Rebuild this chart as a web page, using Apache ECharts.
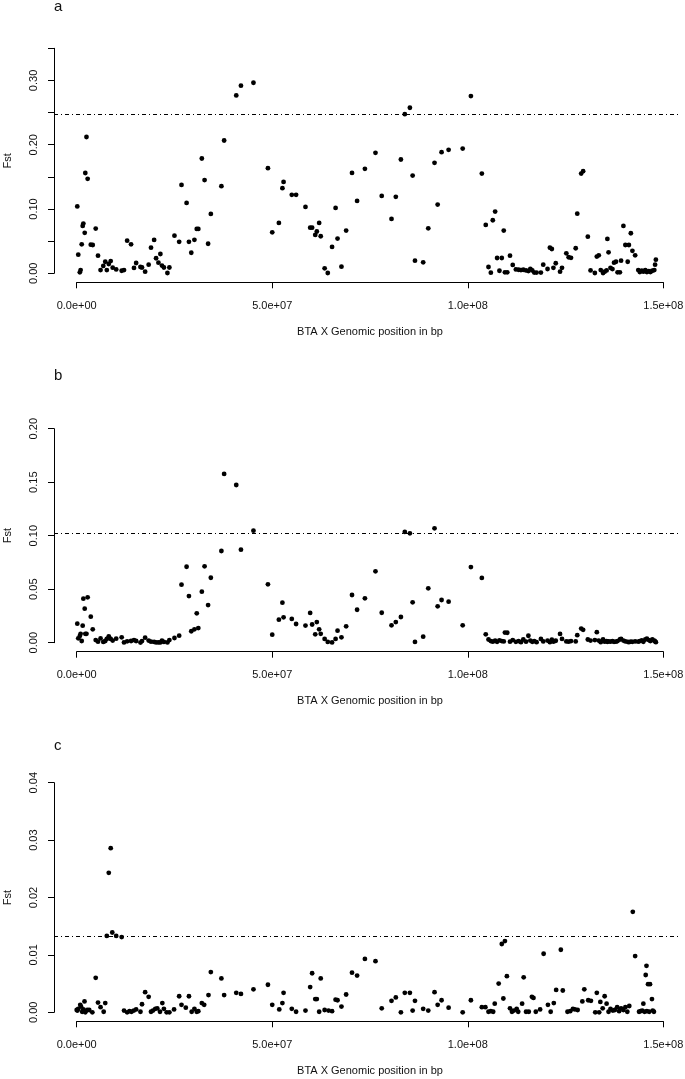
<!DOCTYPE html>
<html>
<head>
<meta charset="utf-8">
<script src="https://cdn.jsdelivr.net/npm/echarts@6/dist/echarts.min.js"></script>
<style>html,body{margin:0;padding:0;background:#fff}#c{width:685px;height:1079px}</style>
</head>
<body>
<div id="c"></div>
<script>
// Genomic position in Mbp, Fst value
var panelA = [
[0.15,0.104],[0.4,0.029],[0.8,0.0015],[1.0,0.005],[1.28,0.045],[1.53,0.0737],[1.7,0.0773],[2.05,0.063],[2.2,0.156],[2.5,0.212],
[2.8,0.147],[3.6,0.0445],[4.1,0.044],[4.86,0.0695],[5.45,0.0274],[6.1,0.005],[6.8,0.0114],[7.3,0.018],[7.7,0.005],[8.2,0.0145],
[8.7,0.019],[9.2,0.0088],[10.1,0.006],[11.5,0.004],[12.1,0.005],[12.9,0.0508],[13.9,0.045],[14.65,0.0083],[15.2,0.016],[16.3,0.0098],
[16.7,0.009],[17.5,0.0025],[18.4,0.0134],[19.0,0.0399],[19.8,0.0519],[20.3,0.0234],[20.9,0.0165],[21.4,0.030],[21.8,0.012],[22.3,0.009],
[23.2,0.0005],[23.7,0.009],[25.0,0.0586],[26.2,0.049],[26.8,0.1375],[28.1,0.1095],[28.7,0.049],[29.3,0.032],[30.1,0.052],[30.7,0.069],
[31.1,0.069],[32.0,0.1786],[32.7,0.145],[33.6,0.046],[34.3,0.0924],[37.0,0.1355],[37.7,0.2066],[40.8,0.2767],[42.0,0.2918],[45.2,0.2964],
[48.9,0.1635],[50.0,0.0638],[51.7,0.0783],[52.6,0.1324],[52.9,0.1422],[55.0,0.122],[56.1,0.122],[58.5,0.1033],[59.7,0.071],[60.2,0.071],
[61.0,0.0597],[61.4,0.065],[62.0,0.0783],[62.4,0.0576],[63.4,0.0078],[64.2,0.0005],[65.3,0.041],[66.2,0.1017],[66.7,0.054],[67.7,0.0103],
[68.9,0.0664],[70.4,0.1562],[71.7,0.1126],[73.7,0.1625],[76.4,0.1874],[78.0,0.1204],[80.5,0.0846],[81.6,0.1189],[82.9,0.177],[83.9,0.2476],
[85.2,0.2575],[85.9,0.152],[86.5,0.0197],[88.6,0.0171],[89.9,0.070],[91.5,0.1718],[92.3,0.1069],[93.3,0.1884],[95.1,0.192],[98.7,0.194],
[100.8,0.2757],[103.6,0.1552],[104.6,0.0752],[105.3,0.0098],[105.9,0.001],[106.4,0.0825],[107.0,0.096],[107.5,0.0238],[108.1,0.004],[108.7,0.0238],
[109.2,0.0664],[109.5,0.0015],[110.1,0.0015],[110.8,0.0274],[111.5,0.013],[112.3,0.006],[113.0,0.0055],[113.6,0.005],[114.2,0.0055],[114.9,0.0045],
[115.5,0.0035],[116.0,0.007],[116.5,0.0045],[117.0,0.0012],[117.6,0.0012],[118.7,0.0012],[119.3,0.0134],[120.4,0.0067],[121.0,0.0399],[121.5,0.0378],
[121.9,0.0085],[122.5,0.0156],[123.6,0.0025],[124.1,0.0085],[125.2,0.031],[125.8,0.025],[126.4,0.024],[127.6,0.039],[128.0,0.0928],[129.0,0.1552],
[129.5,0.1589],[130.7,0.057],[131.4,0.0045],[132.5,0.0005],[133.0,0.026],[133.5,0.028],[134.0,0.005],[134.6,0.0005],[135.0,0.0025],[135.5,0.0045],
[135.7,0.0534],[136.0,0.0327],[136.5,0.0085],[137.0,0.0065],[137.4,0.0165],[137.9,0.018],[138.3,0.0015],[138.9,0.0015],[139.2,0.0197],[139.8,0.0737],
[140.3,0.044],[140.9,0.018],[141.2,0.044],[141.7,0.0623],[142.1,0.035],[142.8,0.028],[143.6,0.005],[144.0,0.002],[144.5,0.004],[144.9,0.0025],
[145.4,0.005],[145.8,0.002],[146.3,0.0035],[146.7,0.002],[147.2,0.004],[147.7,0.005],[147.9,0.0134],[148.1,0.0212]
];
var panelB = [
[0.15,0.0178],[0.4,0.0041],[0.8,0.0063],[1.0,0.0083],[1.28,0.0016],[1.53,0.0159],[1.7,0.0411],[2.05,0.0318],[2.2,0.0083],[2.5,0.0083],
[2.8,0.0424],[3.6,0.0243],[4.1,0.0125],[4.86,0.0025],[5.45,0.001],[6.1,0.004],[6.8,0.0007],[7.3,0.0016],[7.7,0.0035],[8.2,0.006],
[8.7,0.0035],[9.2,0.002],[10.1,0.0038],[11.5,0.005],[12.1,0.0003],[12.9,0.0013],[13.9,0.0016],[14.65,0.0025],[15.2,0.0016],[16.3,0.0001],
[16.7,0.0015],[17.5,0.0047],[18.4,0.002],[19.0,0.001],[19.8,0.0007],[20.3,0.0003],[20.9,0.0003],[21.4,0.0003],[21.8,0.002],[22.3,0.0007],
[23.2,0.0003],[23.7,0.0025],[25.0,0.0044],[26.2,0.0066],[26.8,0.0542],[28.1,0.071],[28.7,0.0436],[29.3,0.0107],[30.1,0.0125],[30.7,0.0275],
[31.1,0.0137],[32.0,0.0477],[32.7,0.0714],[33.6,0.0352],[34.3,0.0607],[37.0,0.0857],[37.7,0.1577],[40.8,0.1474],[42.0,0.0869],[45.2,0.1047],
[48.9,0.0546],[50.0,0.0075],[51.7,0.0215],[52.6,0.0374],[52.9,0.0237],[55.0,0.0222],[56.1,0.0175],[58.5,0.016],[59.7,0.0278],[60.2,0.017],
[61.0,0.0078],[61.4,0.0193],[62.0,0.0125],[62.4,0.0083],[63.4,0.0035],[64.2,0.0007],[65.3,0.0003],[66.2,0.0035],[66.7,0.0112],[67.7,0.005],
[68.9,0.0153],[70.4,0.0446],[71.7,0.0308],[73.7,0.0415],[76.4,0.0667],[78.0,0.028],[80.5,0.0162],[81.6,0.0193],[82.9,0.024],[83.9,0.1035],
[85.2,0.1022],[85.9,0.0377],[86.5,0.0007],[88.6,0.0056],[89.9,0.0508],[91.5,0.1069],[92.3,0.034],[93.3,0.0399],[95.1,0.0383],[98.7,0.0162],
[100.8,0.0707],[103.6,0.0605],[104.6,0.0078],[105.3,0.003],[105.9,0.0015],[106.4,0.001],[107.0,0.0018],[107.5,0.0008],[108.1,0.0022],[108.7,0.0015],
[109.2,0.0012],[109.5,0.0095],[110.1,0.0093],[110.8,0.001],[111.5,0.0025],[112.3,0.0008],[113.0,0.0015],[113.6,0.0005],[114.2,0.003],[114.9,0.001],
[115.5,0.0065],[116.0,0.002],[116.5,0.0008],[117.0,0.0015],[117.6,0.0005],[118.7,0.0035],[119.3,0.0012],[120.4,0.002],[121.0,0.0005],[121.5,0.0028],
[121.9,0.001],[122.5,0.0018],[123.6,0.0082],[124.1,0.0035],[125.2,0.0012],[125.8,0.001],[126.4,0.0015],[127.6,0.0012],[128.0,0.007],[129.0,0.0132],
[129.5,0.012],[130.7,0.003],[131.4,0.002],[132.5,0.0025],[133.0,0.0098],[133.5,0.002],[134.0,0.0005],[134.6,0.003],[135.0,0.001],[135.5,0.0015],
[135.7,0.0008],[136.0,0.0012],[136.5,0.001],[137.0,0.0015],[137.4,0.0008],[137.9,0.001],[138.3,0.0015],[138.9,0.003],[139.2,0.0035],[139.8,0.002],
[140.3,0.0012],[140.9,0.0008],[141.2,0.0005],[141.7,0.001],[142.1,0.0008],[142.8,0.0012],[143.6,0.001],[144.0,0.0015],[144.5,0.0022],[144.9,0.0008],
[145.4,0.003],[145.8,0.0038],[146.3,0.0025],[146.7,0.0015],[147.2,0.003],[147.7,0.0018],[147.9,0.0012],[148.1,0.0005]
];
var panelC = [
[0.0,0.0004],[0.2,0.0003],[0.4,0.0006],[0.9,0.0013],[1.1,0.0010],[1.4,0.0001],[1.7,0.0005],[2.0,0.0019],[2.2,0.0],[2.7,0.0004],
[3.2,0.0004],[4.0,0.0],[4.86,0.006],[5.45,0.0017],[6.1,0.0009],[6.9,0.0001],[7.3,0.0016],[7.7,0.0133],[8.2,0.0243],[8.7,0.0286],
[9.1,0.0139],[10.1,0.0133],[11.5,0.0131],[12.1,0.0003],[12.9,0.0],[13.5,0.0002],[14.0,0.0001],[14.6,0.0003],[15.2,0.0005],[16.3,0.0001],
[16.7,0.0014],[17.5,0.0035],[18.4,0.0027],[19.0,0.0001],[19.5,0.0003],[20.1,0.0006],[20.6,0.0007],[21.3,0.0001],[21.9,0.0016],[22.3,0.0006],
[23.0,0.0],[23.7,0.0],[24.9,0.0005],[26.2,0.0028],[26.8,0.0013],[27.9,0.0008],[28.7,0.0028],[29.4,0.0001],[30.1,0.0006],[30.7,0.0001],
[31.1,0.0002],[32.0,0.0016],[32.6,0.0013],[33.7,0.003],[34.3,0.007],[37.0,0.0059],[37.7,0.003],[40.8,0.0034],[42.0,0.0032],[45.2,0.004],
[48.9,0.0048],[50.0,0.0013],[51.8,0.0005],[52.6,0.0016],[52.9,0.0034],[55.0,0.0006],[56.1,0.0001],[58.5,0.0003],[59.7,0.0044],[60.2,0.0068],
[61.0,0.0023],[61.4,0.0023],[62.0,0.0001],[62.4,0.0059],[63.4,0.0004],[64.4,0.0003],[65.3,0.0002],[66.2,0.0022],[66.7,0.0021],[67.7,0.001],
[68.9,0.0031],[70.4,0.0069],[71.7,0.0064],[73.7,0.0093],[76.4,0.0089],[78.0,0.0007],[80.5,0.002],[81.6,0.0026],[82.9,0.0],[83.9,0.0034],
[85.2,0.0034],[85.9,0.0003],[86.5,0.002],[88.6,0.0006],[89.9,0.0003],[91.5,0.0035],[92.3,0.0013],[93.3,0.0021],[95.1,0.0008],[98.7,0.0],
[100.8,0.0021],[103.6,0.0009],[104.5,0.0009],[105.3,0.0001],[105.9,0.0002],[106.5,0.0001],[106.9,0.0015],[107.9,0.005],[108.7,0.0119],[109.1,0.0024],
[109.5,0.0124],[110.0,0.0063],[110.8,0.0007],[111.3,0.0001],[111.8,0.0003],[112.5,0.0006],[112.9,0.0001],[113.9,0.0015],[114.3,0.0061],[114.9,0.0001],
[115.6,0.0001],[116.4,0.0027],[116.8,0.0025],[117.4,0.0001],[118.5,0.0005],[119.4,0.0102],[120.5,0.0013],[121.2,0.0001],[122.0,0.0016],[122.6,0.0039],
[123.8,0.0109],[124.3,0.0038],[125.5,0.0001],[126.2,0.0002],[126.9,0.0006],[127.4,0.0005],[128.1,0.0004],[129.3,0.0019],[129.8,0.004],[130.8,0.0021],
[131.5,0.002],[132.6,0.0],[133.0,0.0034],[133.6,0.0],[133.9,0.0018],[134.5,0.0007],[135.0,0.0028],[135.5,0.0015],[136.0,0.0001],[136.5,0.0006],
[137.1,0.0003],[137.6,0.0004],[138.2,0.0009],[138.7,0.0002],[139.2,0.0007],[139.8,0.0004],[140.3,0.0009],[140.8,0.0001],[141.3,0.0011],[142.2,0.0175],
[142.8,0.0098],[143.8,0.0001],[144.2,0.0002],[144.6,0.0003],[144.9,0.0015],[145.2,0.0001],[145.5,0.0065],[145.7,0.0081],[145.8,0.0002],[146.1,0.0049],
[146.4,0.0001],[146.6,0.0049],[147.1,0.0023],[147.3,0.0003],[147.6,0.0001]
];
var thresholds = [0.2477, 0.1020, 0.01329];
var yMax = [0.35, 0.20, 0.04];
var yStep = [0.05, 0.05, 0.01];
var yTickLabelsA = ['0.00','','0.10','','0.20','','0.30',''];
var yTickLabelsB = ['0.00','0.05','0.10','0.15','0.20'];
var yTickLabelsC = ['0.00','0.01','0.02','0.03','0.04'];
var xTickLabels = ['0.0e+00','5.0e+07','1.0e+08','1.5e+08'];
var panelLetters = ['a','b','c'];
var xTitle = 'BTA X Genomic position in bp';
var yTitle = 'Fst';

var FONT = 'Liberation Sans, Arial, sans-serif';
var TXT = '#111';
var layout = [
  {top: 48.3, height: 225},
  {top: 428.7, height: 214},
  {top: 782.7, height: 229.6}
];
var letterTop = [-1, 368, 738];
var datasets = [panelA, panelB, panelC];
var yLabels = [yTickLabelsA, yTickLabelsB, yTickLabelsC];

var option = {
  animation: false,
  backgroundColor: '#fff',
  title: [], grid: [], xAxis: [], yAxis: [], series: []
};
for (var i = 0; i < 3; i++) {
  var L = layout[i];
  option.title.push({text: panelLetters[i], left: 54, top: letterTop[i], padding: 0,
    textStyle: {fontFamily: FONT, fontSize: 15, fontWeight: 'normal', color: TXT}});
  // axis grid (data range)
  option.grid.push({left: 76.7, width: 586.6, top: L.top, height: L.height,
    containLabel: false, outerBoundsMode: 'none'});
  // plot region grid (for the threshold line)
  option.grid.push({left: 54, width: 626, top: L.top, height: L.height,
    containLabel: false, outerBoundsMode: 'none'});
  (function(idx){
    var labs = yLabels[idx];
    var step = yStep[idx];
    option.xAxis.push({
      gridIndex: 2*idx, type: 'value', min: 0, max: 150, interval: 50,
      position: 'bottom', offset: 9,
      name: xTitle, nameLocation: 'middle', nameGap: 44,
      nameTextStyle: {fontFamily: FONT, fontSize: 11, color: TXT},
      axisLine: {show: true, onZero: false, lineStyle: {color: '#000', width: 1}},
      axisTick: {show: true, length: 6, lineStyle: {color: '#000'}},
      axisLabel: {show: true, margin: 18, fontFamily: FONT, fontSize: 11, color: TXT,
        formatter: function(v){ return xTickLabels[Math.round(v/50)]; }},
      splitLine: {show: false}
    });
    option.yAxis.push({
      gridIndex: 2*idx, type: 'value', min: 0, max: yMax[idx], interval: step,
      position: 'left', offset: 22.7,
      name: yTitle, nameLocation: 'middle', nameGap: 41, nameRotate: 90,
      nameTextStyle: {fontFamily: FONT, fontSize: 11, color: TXT},
      axisLine: {show: true, onZero: false, lineStyle: {color: '#000', width: 1}},
      axisTick: {show: true, length: 6, lineStyle: {color: '#000'}},
      axisLabel: {show: true, rotate: 90, margin: 15, fontFamily: FONT, fontSize: 11, color: TXT,
        formatter: function(v){ var k = Math.round(v/step); return labs[k] || ''; }},
      splitLine: {show: false}
    });
    option.xAxis.push({gridIndex: 2*idx+1, type: 'value', min: 0, max: 1, show: false});
    option.yAxis.push({gridIndex: 2*idx+1, type: 'value', min: 0, max: yMax[idx], show: false});
    option.series.push({
      type: 'scatter', xAxisIndex: 2*idx, yAxisIndex: 2*idx,
      data: datasets[idx], symbol: 'circle', symbolSize: 4.8,
      itemStyle: {color: '#000', opacity: 1}, silent: true, clip: false
    });
    option.series.push({
      type: 'scatter', xAxisIndex: 2*idx+1, yAxisIndex: 2*idx+1,
      data: [], silent: true,
      markLine: {silent: true, symbol: ['none','none'], animation: false, precision: 6,
        label: {show: false},
        lineStyle: {color: '#000', width: 1, type: [4,3,1,3]},
        data: [{yAxis: thresholds[idx]}]}
    });
  })(i);
}
var chart = echarts.init(document.getElementById('c'), null, {renderer: 'canvas'});
chart.setOption(option);
</script>
</body>
</html>
